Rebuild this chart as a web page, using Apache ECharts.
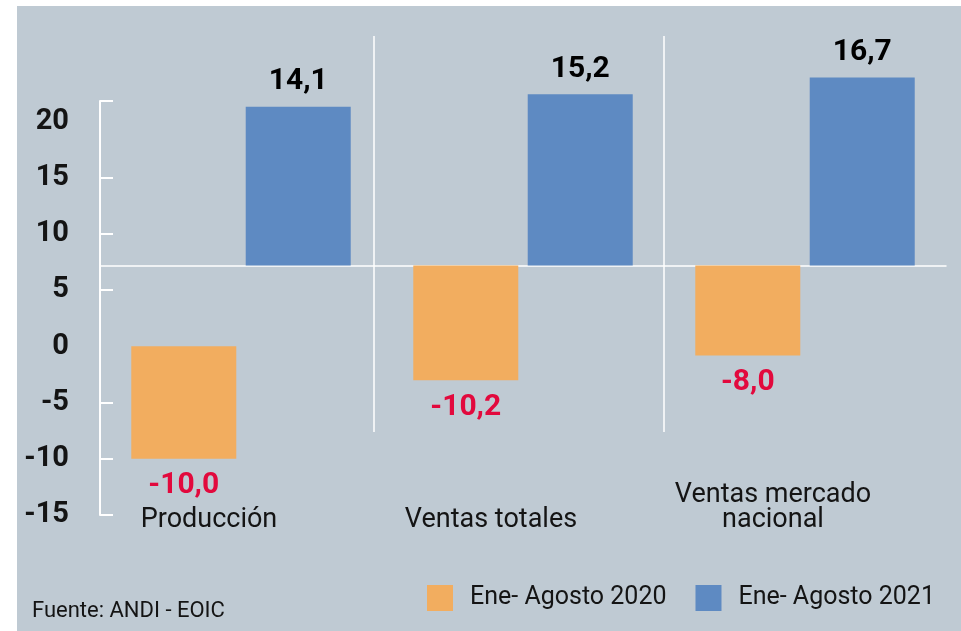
<!DOCTYPE html>
<html>
<head>
<meta charset="utf-8">
<script src="https://cdn.jsdelivr.net/npm/echarts@6/dist/echarts.min.js"></script>
<style>
  html, body { margin: 0; padding: 0; background: #fff; }
  #chart { width: 961px; height: 631px; }
</style>
</head>
<body>
<div id="chart"></div>
<script>
const categories = ['Producción', 'Ventas totales', 'Ventas mercado\nnacional'];
const ene2020 = [-10.0, -10.2, -8.0];
const ene2021 = [14.1, 15.2, 16.7];
const yLabelValues = [-15, -10, -5, 0, 5, 10, 15, 20];
const yTickValues = [-15, -10, -5, 5, 10, 15, 21.8];
// the 2020 bar of the first group hangs from the printed 0, the rest from the white line
const onPrintedScale = [true, false, false];

const orange = '#F2AD5F';
const blue = '#5E8AC2';
const red = '#E2093D';
const ink = '#141414';
const font = 'Roboto';

function fmt(p) {
  return p.value.toFixed(1).replace('.', ',');
}

const chart = echarts.init(document.getElementById('chart'));

chart.setOption({
  animation: false,
  backgroundColor: '#fff',
  textStyle: { fontFamily: font },
  graphic: {
    elements: [
      {
        type: 'rect', z: -100, silent: true,
        shape: { x: 17, y: 6, width: 944, height: 625 },
        style: { fill: '#BFCAD3' }
      },
      {
        type: 'line', z: 1, silent: true,
        shape: { x1: 374, y1: 36, x2: 374, y2: 432 },
        style: { stroke: '#fff', lineWidth: 1.5 }
      },
      {
        type: 'line', z: 1, silent: true,
        shape: { x1: 664, y1: 36, x2: 664, y2: 432 },
        style: { stroke: '#fff', lineWidth: 1.5 }
      }
    ]
  },
  title: {
    text: 'Fuente: ANDI - EOIC',
    left: 32,
    top: 600,
    padding: 0,
    textStyle: { fontSize: 22, fontWeight: 'normal', color: ink, fontFamily: font }
  },
  legend: {
    data: ['Ene- Agosto 2020', 'Ene- Agosto 2021'],
    left: 427,
    top: 585,
    padding: 0,
    icon: 'rect',
    itemWidth: 26,
    itemHeight: 26,
    itemGap: 29,
    textStyle: { fontSize: 25, color: ink, padding: [0, 0, 0, 12], fontFamily: font }
  },
  grid: {
    left: 100,
    right: 15,
    top: 101,
    bottom: 116,
    containLabel: false,
    outerBoundsMode: 'none'
  },
  xAxis: {
    type: 'category',
    data: categories,
    axisLine: {
      onZero: true,
      onZeroAxisIndex: 1,
      lineStyle: { color: '#fff', width: 1.5 }
    },
    axisTick: { show: false },
    splitLine: { show: false },
    axisLabel: {
      margin: 18,
      verticalAlign: 'bottom',
      fontSize: 27,
      lineHeight: 25,
      color: ink,
      padding: [0, 64, 0, 0],
      fontFamily: font
    }
  },
  yAxis: [
    {
      type: 'value',
      min: -15,
      max: 21.8,
      interval: 5,
      axisLine: { show: true, lineStyle: { color: '#fff', width: 2 } },
      axisTick: {
        show: true,
        inside: true,
        length: 13,
        customValues: yTickValues,
        lineStyle: { color: '#fff', width: 2 }
      },
      axisLabel: {
        customValues: yLabelValues,
        margin: 31,
        fontSize: 29,
        fontWeight: 'bold',
        color: ink,
        fontFamily: font
      },
      splitLine: { show: false }
    },
    {
      type: 'value',
      show: false,
      min: -22.16,
      max: 14.61,
      splitLine: { show: false }
    }
  ],
  series: [
    {
      name: 'Ene- Agosto 2020',
      type: 'bar',
      stack: 'y2020',
      yAxisIndex: 0,
      barWidth: 105,
      barGap: '9%',
      itemStyle: { color: orange },
      data: ene2020.map((v, i) => (onPrintedScale[i] ? v : null)),
      label: {
        show: true, position: 'bottom', distance: 12, formatter: fmt,
        color: red, fontSize: 30, fontWeight: 'bold', fontFamily: font
      }
    },
    {
      name: 'Ene- Agosto 2020',
      type: 'bar',
      stack: 'y2020',
      yAxisIndex: 1,
      barWidth: 105,
      barGap: '9%',
      itemStyle: { color: orange },
      data: ene2020.map((v, i) => (onPrintedScale[i] ? null : v)),
      label: {
        show: true, position: 'bottom', distance: 12, formatter: fmt,
        color: red, fontSize: 30, fontWeight: 'bold', fontFamily: font
      }
    },
    {
      name: 'Ene- Agosto 2021',
      type: 'bar',
      yAxisIndex: 1,
      barWidth: 105,
      barGap: '9%',
      clip: false,
      itemStyle: { color: blue },
      data: ene2021,
      label: {
        show: true, position: 'top', distance: 10, formatter: fmt,
        color: '#000', fontSize: 30, fontWeight: 'bold', fontFamily: font
      }
    }
  ]
});
</script>
</body>
</html>
